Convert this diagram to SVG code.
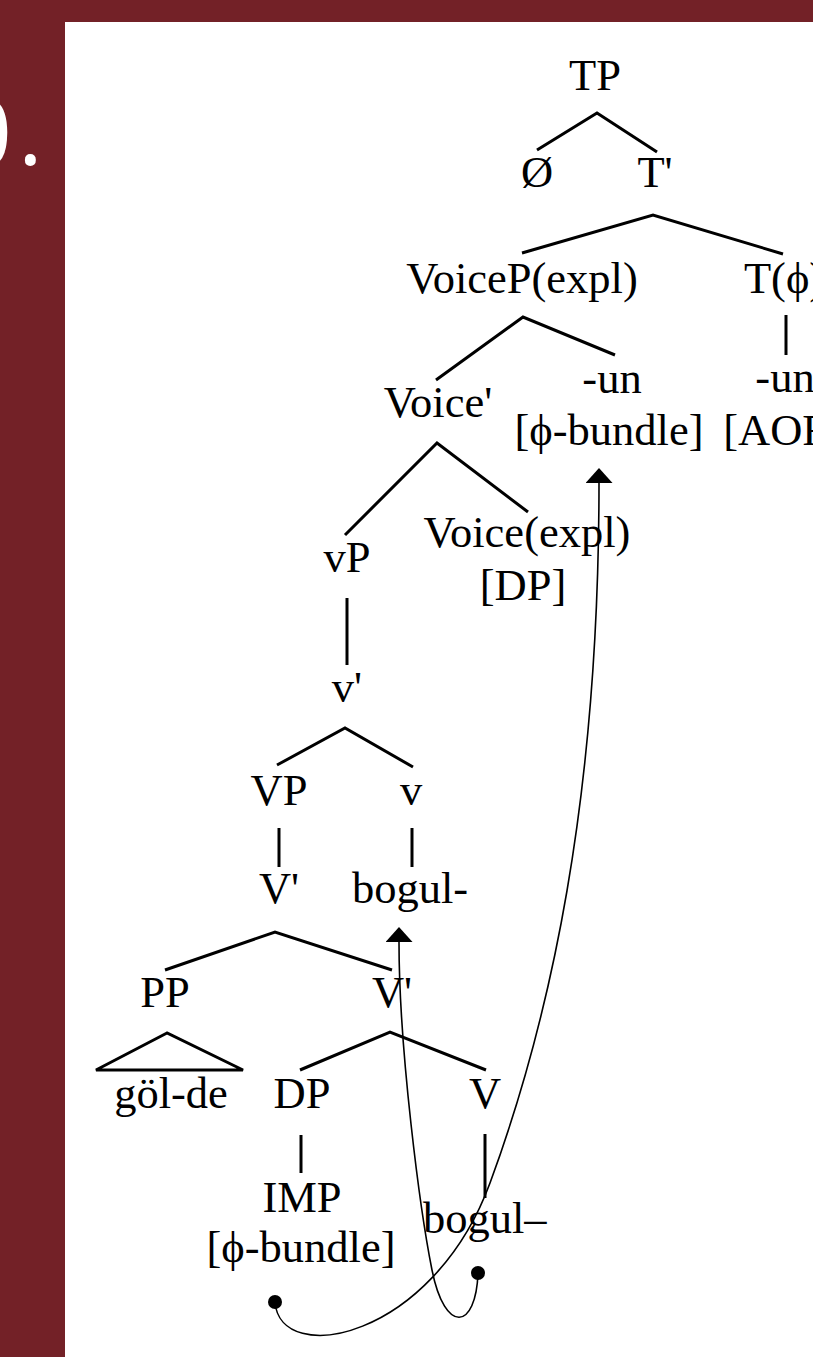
<svg xmlns="http://www.w3.org/2000/svg" width="813" height="1357" viewBox="0 0 813 1357">
  <style>
    .lbl { font-family: "Liberation Serif", "Times New Roman", "DejaVu Serif", serif; font-size: 44.5px; fill: #000; text-anchor: middle; }
    .br { fill: none; stroke: #000; stroke-width: 3; stroke-linecap: butt; stroke-linejoin: miter; }
    .mv { fill: none; stroke: #000; stroke-width: 1.6; }
    .num { font-family: "Open Sans", "Noto Sans", sans-serif; font-size: 94px; fill: #fff; }
  </style>
  <defs>
    <!-- filled triangular head, drawn along +x so it follows the path tangent -->
    <marker id="tip" viewBox="0 0 15 27" refX="0" refY="13.5" markerWidth="15" markerHeight="27" markerUnits="userSpaceOnUse" orient="auto">
      <path d="M0 0 L15 13.5 L0 27 Z" fill="#000"/>
    </marker>
  </defs>

  <!-- slide background and white panel -->
  <rect x="0" y="0" width="813" height="1357" fill="#732127"/>
  <rect x="65" y="22" width="748" height="1335" fill="#fff"/>
  <text class="num" x="12" y="166" text-anchor="end">0</text>
  <text class="num" x="18" y="165">.</text>

  <!-- tree branches -->
  <g id="branches">
    <polyline class="br" points="537,150 597,113 657,152"/>
    <polyline class="br" points="522,253 653,215 783,254"/>
    <line class="br" x1="786" y1="315" x2="786" y2="355"/>
    <polyline class="br" points="436,380 523,317 615,355"/>
    <polyline class="br" points="345,535 437,443 528,512"/>
    <line class="br" x1="347" y1="598" x2="347" y2="665"/>
    <polyline class="br" points="277,765 345,728 413,767"/>
    <line class="br" x1="279" y1="828" x2="279" y2="867"/>
    <line class="br" x1="412" y1="828" x2="412" y2="867"/>
    <polyline class="br" points="165,970 275,932 392,970"/>
    <polygon class="br" points="167,1033 96,1070 243,1070"/>
    <polyline class="br" points="300,1070 390,1032 486,1070"/>
    <line class="br" x1="301" y1="1135" x2="301" y2="1173"/>
    <line class="br" x1="485" y1="1134" x2="485" y2="1198"/>
  </g>

  <!-- tree nodes -->
  <g id="n-TP"><text class="lbl" x="595" y="90">TP</text></g>
  <g id="n-null"><text class="lbl" x="537" y="187">Ø</text></g>
  <g id="n-Tbar"><text class="lbl" x="655" y="187">T'</text></g>
  <g id="n-VoiceP"><text class="lbl" x="522" y="293">VoiceP(expl)</text></g>
  <g id="n-T"><text class="lbl" x="784" y="293">T(ϕ)</text></g>
  <g id="n-T-un"><text class="lbl" x="785" y="392">-un</text><text class="lbl" x="785" y="445">[AOR]</text></g>
  <g id="n-Voicebar"><text class="lbl" x="438" y="417">Voice'</text></g>
  <g id="n-Voice-un"><text class="lbl" x="612" y="393">-un</text><text class="lbl" x="609" y="445">[ϕ-bundle]</text></g>
  <g id="n-vP"><text class="lbl" x="347" y="572">vP</text></g>
  <g id="n-Voice"><text class="lbl" x="527" y="547">Voice(expl)</text><text class="lbl" x="523" y="600">[DP]</text></g>
  <g id="n-vbar"><text class="lbl" x="347" y="702">v'</text></g>
  <g id="n-VP"><text class="lbl" x="279" y="805">VP</text></g>
  <g id="n-v"><text class="lbl" x="411" y="805">v</text></g>
  <g id="n-Vbar1"><text class="lbl" x="279" y="903">V'</text></g>
  <g id="n-v-root"><text class="lbl" x="410" y="903">bogul-</text></g>
  <g id="n-PP"><text class="lbl" x="165" y="1007">PP</text></g>
  <g id="n-Vbar2"><text class="lbl" x="392" y="1007">V'</text></g>
  <g id="n-golde"><text class="lbl" x="171" y="1108">göl-de</text></g>
  <g id="n-DP"><text class="lbl" x="302" y="1108">DP</text></g>
  <g id="n-V"><text class="lbl" x="485" y="1108">V</text></g>
  <g id="n-IMP"><text class="lbl" x="302" y="1212">IMP</text><text class="lbl" x="301" y="1262">[ϕ-bundle]</text></g>
  <g id="n-V-root"><text class="lbl" x="423" y="1233" style="text-anchor:start">bogul–</text></g>

  <!-- movement arrows -->
  <g id="movement">
    <circle cx="275" cy="1302" r="7" fill="#000"/>
    <circle cx="478" cy="1273" r="7" fill="#000"/>
    <path class="mv" d="M275,1302 C280,1368 432,1340 490,1183 C550,1020 599,800 599,483" marker-end="url(#tip)"/>
    <path class="mv" d="M478,1273 C476,1330 445,1335 432,1270 C420,1210 399,1050 399,942" marker-end="url(#tip)"/>
  </g>
</svg>
